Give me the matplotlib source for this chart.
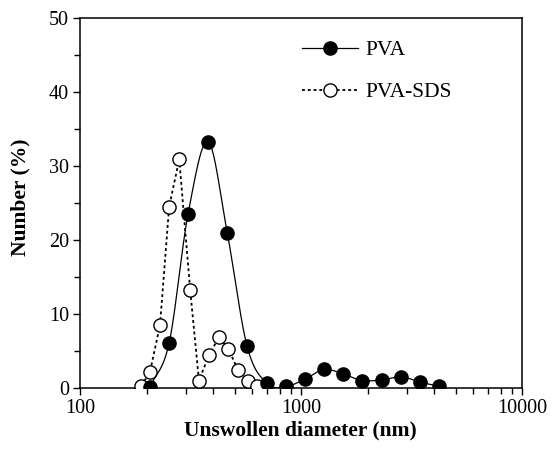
import numpy as np
import matplotlib
matplotlib.use("Agg")
import matplotlib.pyplot as plt
from matplotlib.ticker import LogLocator, NullFormatter, MultipleLocator

plt.rcParams['font.family'] = ['Liberation Serif', 'DejaVu Serif']

# size distributions (diameter in nm, number %)
pva_d = [207, 253, 308, 379, 463, 570, 701, 855, 1043, 1271, 1549, 1888, 2328, 2833, 3452, 4207]
pva_n = [0.1, 6.1, 23.5, 33.3, 21.0, 5.6, 0.6, 0.2, 1.2, 2.5, 1.9, 1.0, 1.1, 1.5, 0.8, 0.2]

sds_d = [189, 207, 230, 253, 281, 315, 345, 384, 426, 468, 519, 575, 632]
sds_n = [0.3, 2.1, 8.5, 24.5, 30.9, 13.2, 1.0, 4.5, 6.9, 5.3, 2.4, 1.0, 0.3]


def catmull_rom(x, y, steps=24):
    # smooth curve through the points, computed in log10(x)
    lx = np.log10(np.asarray(x, float))
    y = np.asarray(y, float)
    px = np.concatenate([[2 * lx[0] - lx[1]], lx, [2 * lx[-1] - lx[-2]]])
    py = np.concatenate([[2 * y[0] - y[1]], y, [2 * y[-1] - y[-2]]])
    t = np.linspace(0, 1, steps, endpoint=False)
    outx, outy = [], []
    for i in range(1, len(px) - 2):
        for p, out in ((px, outx), (py, outy)):
            p0, p1, p2, p3 = p[i - 1], p[i], p[i + 1], p[i + 2]
            out.extend(0.5 * (2 * p1 + (-p0 + p2) * t
                              + (2 * p0 - 5 * p1 + 4 * p2 - p3) * t ** 2
                              + (-p0 + 3 * p1 - 3 * p2 + p3) * t ** 3))
    outx.append(lx[-1])
    outy.append(y[-1])
    return 10 ** np.array(outx), np.array(outy)


fig = plt.figure(figsize=(5.52, 4.49), dpi=100)
ax = fig.add_axes([0.145, 0.136, 0.801, 0.824])

# PVA-SDS: dotted, open circles
ax.plot(sds_d, sds_n, color='black', lw=1.3, ls=(0, (1.6, 1.6)), zorder=2)
ax.plot(sds_d, sds_n, ls='none', marker='o', ms=9.5, mfc='white', mec='black',
        mew=1.0, zorder=3)

# PVA: smooth solid line, filled circles
sx, sy = catmull_rom(pva_d, pva_n)
ax.plot(sx, sy, color='black', lw=0.9, zorder=4)
ax.plot(pva_d, pva_n, ls='none', marker='o', ms=9.5, mfc='black', mec='black',
        zorder=5)

ax.set_xscale('log')
ax.set_xlim(100, 10000)
ax.set_ylim(0, 50)
ax.set_xticks([100, 1000, 10000])
ax.set_xticklabels(['100', '1000', '10000'])
ax.xaxis.set_minor_locator(LogLocator(base=10, subs=np.arange(2, 10)))
ax.xaxis.set_minor_formatter(NullFormatter())
ax.yaxis.set_major_locator(MultipleLocator(10))
ax.yaxis.set_minor_locator(MultipleLocator(5))

ax.tick_params(which='both', direction='out', top=False, right=False,
               width=1.0, labelsize=14.5, pad=3)
ax.tick_params(which='major', length=5)
ax.tick_params(which='minor', length=4)
for s in ax.spines.values():
    s.set_linewidth(1.1)

ax.set_xlabel('Unswollen diameter (nm)', fontsize=15.5, fontweight='bold')
ax.set_ylabel('Number (%)', fontsize=15.5, fontweight='bold')
ax.xaxis.set_label_coords(0.498, -0.089)
ax.yaxis.set_label_coords(-0.113, 0.516)

# legend
h1, = ax.plot([], [], color='black', lw=0.9, marker='o', ms=9.5, mfc='black', mec='black')
h2, = ax.plot([], [], color='black', lw=1.3, ls=(0, (1.6, 1.6)), marker='o', ms=9.5,
              mfc='white', mec='black', mew=1.0)
ax.legend([h1, h2], ['PVA', 'PVA-SDS'], loc='upper left', bbox_to_anchor=(0.502, 0.940),
          frameon=False, fontsize=15.5, handlelength=2.6, handletextpad=0.33,
          labelspacing=1.03, borderpad=0, borderaxespad=0, numpoints=1)

fig.savefig('out.png', dpi=100)
